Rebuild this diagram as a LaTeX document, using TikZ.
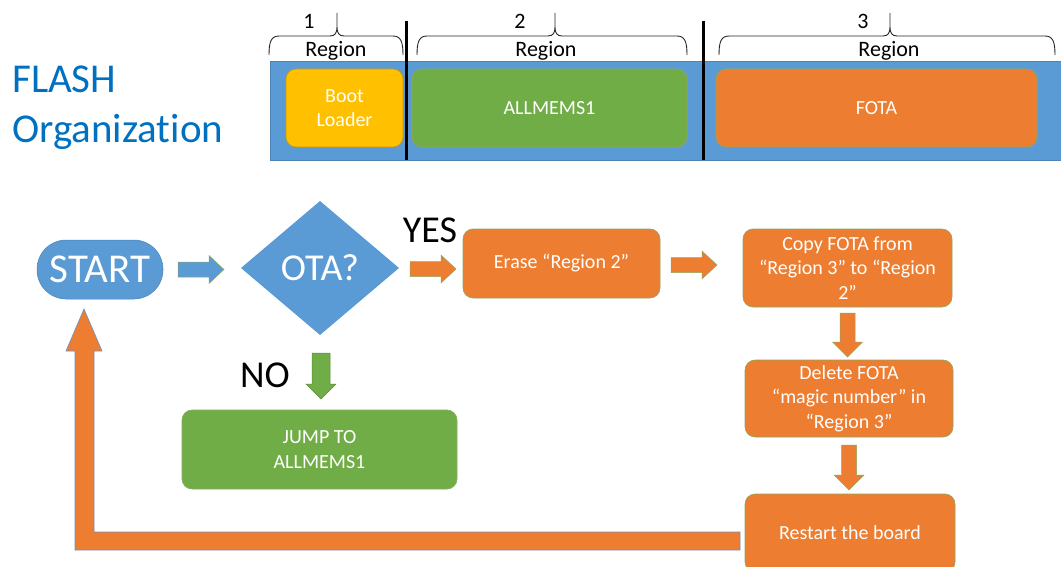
\documentclass[tikz,border=0pt]{standalone}
\usepackage{fontspec}
\setmainfont{Carlito}[Ligatures={NoCommon}]
\usetikzlibrary{shapes.geometric,calc}
\definecolor{cblue}{HTML}{5B9BD5}
\definecolor{corange}{HTML}{ED7D31}
\definecolor{cgreen}{HTML}{70AD47}
\definecolor{cgold}{HTML}{FFC000}
\definecolor{ctitle}{HTML}{0070C0}
\definecolor{edgec}{HTML}{8EA860}
\definecolor{ledge}{HTML}{6F8FBF}
\newcommand\rightblock[3]{\filldraw[#1] let \p1=(#2), \p2=(#3) in (\x1,\y1+7.5pt) -- (\x2-15pt,\y1+7.5pt) -- (\x2-15pt,\y1+14pt) -- (\x2,\y1) -- (\x2-15pt,\y1-14pt) -- (\x2-15pt,\y1-7.5pt) -- (\x1,\y1-7.5pt) -- cycle;}
\newcommand\downblock[4]{\filldraw[#1] let \p1=(#2), \p2=(#3) in (\x1-#4,\y1) -- (\x1-#4,\y2+15pt) -- (\x1-15pt,\y2+15pt) -- (\x1,\y2) -- (\x1+15pt,\y2+15pt) -- (\x1+#4,\y2+15pt) -- (\x1+#4,\y1) -- cycle;}
\newcommand\regbrace[3]{\draw[line width=0.9pt, black!85] (#1,55) .. controls (#1,42) and (#1+2,36) .. (#1+10,36) -- (#3-7,36) .. controls (#3-2,36) and (#3,33) .. (#3,27) -- (#3,13) (#3,27) .. controls (#3,33) and (#3+2,36) .. (#3+7,36) -- (#2-10,36) .. controls (#2-2,36) and (#2,42) .. (#2,55);}
\begin{document}
\begin{tikzpicture}[x=1pt,y=-1pt,
  box/.style={draw=edgec, line width=0.6pt, rounded corners=10pt, text=white,
    font=\fontsize{20}{24.5}\selectfont, align=center, inner sep=0pt, outer sep=0pt},
  lbl/.style={font=\fontsize{22}{22}\selectfont, inner sep=0pt, anchor=base},
  big/.style={font=\fontsize{38}{38}\selectfont, inner sep=0pt, anchor=base},
  barrowb/.style={fill=cblue, draw=edgec, line width=0.5pt},
  barrowo/.style={fill=corange, draw=edgec, line width=0.5pt},
  barrowg/.style={fill=cgreen, draw=cgreen!80!black, line width=0.5pt}]
\useasboundingbox (0,0) rectangle (1061,567);
\clip (0,0) rectangle (1061,567);

% title
\node[font=\fontsize{41}{41}\selectfont, text=ctitle, inner sep=0pt, anchor=base west] (t1) at (12,93) {FLASH};
\node[font=\fontsize{41}{41}\selectfont, text=ctitle, inner sep=0pt, anchor=base west] (t2) at (12,143) {Organization};

% flash bar
\filldraw[fill=cblue, draw=cblue!85!black, line width=0.5pt] (270,61) rectangle (1065,160);
\node[box, draw=cgold!80!black, fill=cgold, minimum width=117pt, minimum height=78pt] (boot) at (344.5,108) {Boot\\Loader};
\node[box, fill=cgreen, minimum width=275pt, minimum height=78pt] (allm) at (549.5,108) {ALLMEMS1};
\node[box, fill=corange, minimum width=321pt, minimum height=78pt] (fota) at (876.5,108) {FOTA};
\draw[line width=3pt] (406,21) -- (406,160);
\draw[line width=3pt] (703,21) -- (703,160);

% braces and labels
\regbrace{269}{403}{337}
\regbrace{417}{687}{555}
\regbrace{719}{1055}{890}
\node[lbl] (n1) at (309,29) {1};
\node[lbl] (r1) at (336,57) {Region};
\node[lbl] (n2) at (520,29) {2};
\node[lbl] (r2) at (546,57) {Region};
\node[lbl] (n3) at (863,29) {3};
\node[lbl] (r3) at (889,57) {Region};

% flowchart nodes
\node[fill=cblue, draw=cblue!85!black, line width=0.5pt, rounded corners=29pt, minimum width=126pt, minimum height=59pt, text=white, font=\fontsize{41}{41}\selectfont, inner sep=0pt, outer sep=0pt] (start) at (100,269.5) {START};
\node[diamond, fill=cblue, minimum width=158pt, minimum height=134pt, inner sep=0pt, outer sep=0pt, aspect=1.18, text=white, font=\fontsize{38}{38}\selectfont] (ota) at (320,268) {OTA?};
\node[big] (yes) at (430,243) {YES};
\node[big] (no) at (265,387) {NO};

\node[box, fill=corange, minimum width=197pt, minimum height=69pt] (erase) at (561.5,263.5) {Erase “Region 2”};
\node[box, fill=corange, minimum width=209pt, minimum height=78pt] (copy) at (847.5,268) {Copy FOTA from\\“Region 3” to “Region\\2”};
\node[box, fill=corange, minimum width=208pt, minimum height=77pt] (delete) at (849,398.5) {Delete FOTA\\“magic number” in\\“Region 3”};
\node[box, fill=corange, minimum width=210pt, minimum height=78pt] (restart) at (850,533) {Restart the board};
\node[box, fill=cgreen, minimum width=275pt, minimum height=79pt] (jump) at (319.5,449.5) {JUMP TO\\ALLMEMS1};

% block arrows
\rightblock{barrowb}{$(start.east)+(15,0)$}{$(ota.west)+(-17,0)$}
\rightblock{barrowo}{$(ota.east)+(11,1)$}{$(erase.west)+(-7,0)$}
\rightblock{barrowo}{$(erase.east)+(11,1.5)$}{$(copy.west)+(-26,0)$}
\downblock{barrowo}{$(copy.south)+(0,6)$}{$(delete.north)+(0,-3)$}{7.5pt}
\downblock{barrowo}{$(delete.south)+(0,8)$}{$(restart.north)+(0,-4)$}{7.5pt}
\downblock{barrowg}{$(ota.south)+(1,18)$}{$(jump.north)+(0,-11)$}{9pt}

% return arrow
\filldraw[fill=corange, draw=ledge, line width=0.6pt]
  let \p1=($(restart.west)+(0,8)$), \p2=(start.south) in
  (\x1-5pt,\y1+9pt) -- (\x2-6pt,\y1+9pt) -- (\x2-6pt,\y2-52pt) -- (\x2+2pt,\y2-52pt)
  -- (\x2-16pt,\y2-10pt) -- (\x2-34pt,\y2-52pt) -- (\x2-25pt,\y2-52pt)
  -- (\x2-25pt,\y1-9pt) -- (\x1-5pt,\y1-9pt) -- cycle;
\end{tikzpicture}
\end{document}
